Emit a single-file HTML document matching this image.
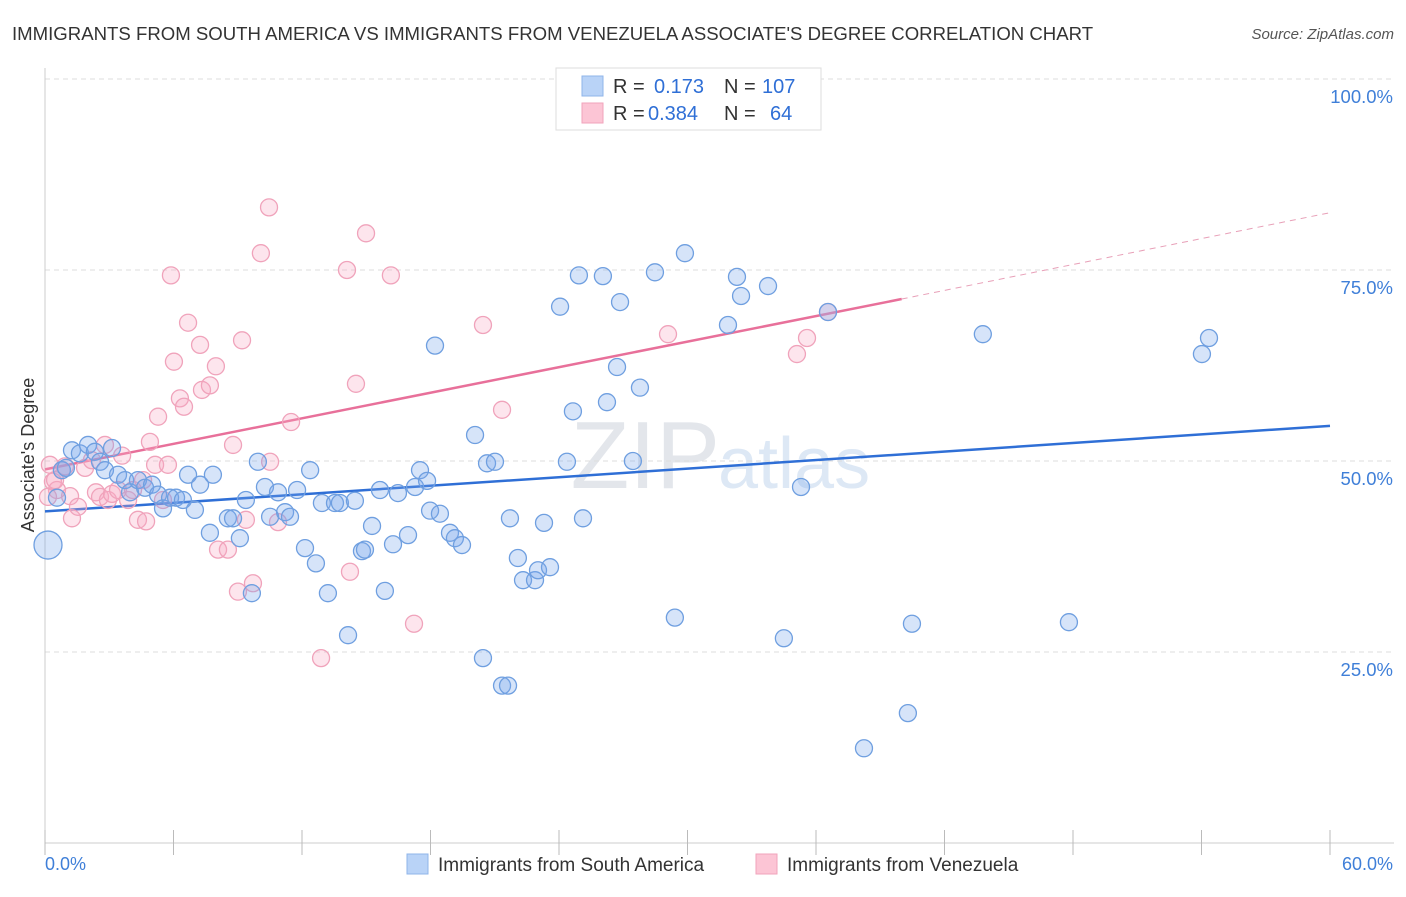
<!DOCTYPE html>
<html><head><meta charset="utf-8">
<style>
body{margin:0;background:#fff;font-family:"Liberation Sans",sans-serif;}
svg text{font-family:"Liberation Sans",sans-serif;}
</style></head><body>
<svg id="c" width="1406" height="892" xmlns="http://www.w3.org/2000/svg">
<text x="12" y="40" font-size="18.6" fill="#333">IMMIGRANTS FROM SOUTH AMERICA VS IMMIGRANTS FROM VENEZUELA ASSOCIATE'S DEGREE CORRELATION CHART</text>
<text x="1394" y="39" font-size="15" fill="#555" font-style="italic" text-anchor="end">Source: ZipAtlas.com</text>
<text x="720" y="488" font-size="96" fill="#e3e6eb" text-anchor="end" font-family="Liberation Serif">ZIP</text>
<text x="718" y="488" font-size="72" fill="#dde8f5">atlas</text>
<text transform="translate(34,455) rotate(-90)" font-size="18" fill="#333" text-anchor="middle">Associate's Degree</text>
<g id="grid"></g><g id="axes"></g><g id="lines"></g><g id="pts"></g>
<g>
<rect x="556" y="68" width="265" height="62" fill="#fff" stroke="#ddd"/>
<rect x="582" y="76" width="21" height="20" fill="#b9d3f7" stroke="#8fb4ea"/>
<rect x="582" y="103" width="21" height="20" fill="#fcc5d5" stroke="#f1a3bb"/>
<text x="613" y="93" font-size="20" fill="#333">R = </text><text x="654" y="93" font-size="20" fill="#2f6fd6">0.173</text>
<text x="724" y="93" font-size="20" fill="#333">N = </text><text x="762" y="93" font-size="20" fill="#2f6fd6">107</text>
<text x="613" y="120" font-size="20" fill="#333">R = </text><text x="648" y="120" font-size="20" fill="#2f6fd6">0.384</text>
<text x="724" y="120" font-size="20" fill="#333">N = </text><text x="770" y="120" font-size="20" fill="#2f6fd6">64</text>
</g>
<g>
<rect x="407" y="854" width="21" height="20" fill="#b9d3f7" stroke="#8fb4ea"/>
<text x="438" y="871" font-size="19" fill="#333">Immigrants from South America</text>
<rect x="756" y="854" width="21" height="20" fill="#fcc5d5" stroke="#f1a3bb"/>
<text x="787" y="871" font-size="19" fill="#333">Immigrants from Venezuela</text>
</g>
</svg>
<script>
const blueX=[0.14,0.56,0.79,0.98,1.26,1.63,2.01,2.33,2.57,2.80,3.13,3.41,3.74,3.97,4.34,4.67,5.00,5.28,5.51,5.84,6.12,6.44,6.68,7.00,7.24,7.70,7.84,8.54,8.78,9.10,9.38,9.66,9.94,10.27,10.51,10.88,11.21,11.44,11.77,12.14,12.38,12.65,12.93,13.21,13.54,13.77,14.15,14.47,14.80,14.94,15.27,15.64,15.87,16.25,16.48,16.95,17.28,17.51,17.84,17.98,18.21,18.44,18.91,19.14,19.47,20.08,20.45,20.64,21.01,21.34,21.62,21.71,22.08,22.32,22.88,23.02,23.30,23.58,24.05,24.37,24.65,24.93,25.12,26.05,26.24,26.71,26.85,27.45,27.78,28.48,29.41,29.88,31.89,32.31,32.50,33.76,34.50,35.30,36.56,38.24,40.29,40.48,43.79,47.81,54.02,54.35];
const blueY=[39.0,45.2,48.8,49.1,51.4,51.0,52.1,51.2,49.9,48.8,51.7,48.2,47.5,45.9,47.5,46.5,46.9,45.6,43.8,45.2,45.2,44.9,48.2,43.6,46.9,40.6,48.2,42.5,42.5,39.9,44.9,32.7,49.9,46.6,42.7,45.9,43.3,42.7,46.2,38.6,48.8,36.6,44.5,32.7,44.5,44.5,27.2,44.8,38.2,38.4,41.5,46.2,33.0,39.1,45.8,40.3,46.6,48.8,47.4,43.5,65.1,43.1,40.6,39.9,39.0,53.4,24.2,49.7,49.9,20.6,20.6,42.5,37.3,34.4,34.4,35.7,41.9,36.1,70.2,49.9,56.5,74.3,42.5,74.2,57.7,62.3,70.8,50.0,59.6,74.7,29.5,77.2,67.8,74.1,71.6,72.9,26.8,46.6,69.5,12.4,17.0,28.7,66.6,28.9,64.0,66.1];
const pinkX=[0.23,0.37,0.56,0.79,0.93,1.17,1.26,1.54,1.87,2.19,2.38,2.57,2.80,2.94,3.13,3.41,3.60,3.88,4.11,4.34,4.58,4.72,4.90,5.14,5.28,5.51,5.74,5.88,6.02,6.30,6.49,6.68,7.24,7.33,7.70,7.98,8.08,8.54,8.78,9.01,9.20,9.38,9.71,10.08,10.46,10.51,10.88,11.49,12.89,14.10,14.24,14.52,14.99,16.15,17.23,20.45,21.34,29.09,35.11,35.58,36.56,0.14,0.47];
const pinkY=[49.5,47.3,46.2,48.8,49.3,45.4,42.5,44.0,49.1,50.1,45.9,45.3,52.1,44.9,45.7,46.2,50.7,44.9,46.2,42.3,47.5,42.1,52.5,49.5,55.8,44.9,49.5,74.3,63.0,58.2,57.1,68.1,65.2,59.3,59.9,62.4,38.4,38.4,52.1,32.9,65.8,42.3,34.0,77.2,83.2,49.9,42.0,55.1,24.2,75.0,35.5,60.1,79.8,74.3,28.7,67.8,56.7,66.6,64.0,66.1,69.5,45.3,47.5];
const yTicks=[25,50,75,100];
const yTickLabels=["25.0%","50.0%","75.0%","100.0%"];
const blueTrend=[[0,43.4],[60,54.6]];
const pinkTrend=[[0,48.9],[40,71.2],[60,82.5]];
const NS="http://www.w3.org/2000/svg";
const X=v=>45+v/60*1285, Y=v=>843-v/100*764;
function mk(t,a,p){const e=document.createElementNS(NS,t);for(const k in a)e.setAttribute(k,a[k]);p.appendChild(e);return e;}
const grid=document.getElementById('grid'),axes=document.getElementById('axes'),lines=document.getElementById('lines'),pts=document.getElementById('pts');
yTicks.forEach((t,i)=>{
 const g=mk('line',{x1:45,x2:1394,y1:Y(t),y2:Y(t),stroke:'#ddd','stroke-dasharray':'5,4'},grid);
 
 
 const l=mk('text',{x:1393,y:Y(t)+24,'font-size':18.5,fill:'#3f7fd8','text-anchor':'end'},axes);
 l.textContent=yTickLabels[i];
 
 
});
const ax=mk('line',{x1:45,x2:45,y1:68,y2:843,stroke:'#ccc'},axes);


const bx=mk('line',{x1:45,x2:1394,y1:843,y2:843,stroke:'#ccc'},axes);


for(let i=0;i<=10;i++){const t=mk('line',{x1:X(i*6),x2:X(i*6),y1:830,y2:855,stroke:'#bbb'},axes);
 
 }
const x0=mk('text',{x:45,y:870,'font-size':18,fill:'#3f7fd8'},axes);x0.textContent='0.0%';


const x1=mk('text',{x:1393,y:870,'font-size':18,fill:'#3f7fd8','text-anchor':'end'},axes);x1.textContent='60.0%';


function dots(xs,ys,stroke,fill,name){xs.forEach((v,i)=>{
 const r=(name==='blue-point'&&i===0)?14:8.5;
 const c=mk('circle',{cx:X(v),cy:Y(ys[i]),r:r,fill:fill,stroke:stroke,'stroke-width':1.3},pts);
 
 
});}
dots(pinkX,pinkY,'#f0a3bb','rgba(247,170,195,0.3)','pink-point');
dots(blueX,blueY,'#6f9fe0','rgba(120,165,235,0.3)','blue-point');
const bl=mk('line',{x1:X(blueTrend[0][0]),y1:Y(blueTrend[0][1]),x2:X(blueTrend[1][0]),y2:Y(blueTrend[1][1]),stroke:'#2f6fd6','stroke-width':2.5},lines);


const pl=mk('line',{x1:X(pinkTrend[0][0]),y1:Y(pinkTrend[0][1]),x2:X(pinkTrend[1][0]),y2:Y(pinkTrend[1][1]),stroke:'#e8709a','stroke-width':2.5},lines);


const pd=mk('line',{x1:X(pinkTrend[1][0]),y1:Y(pinkTrend[1][1]),x2:X(pinkTrend[2][0]),y2:Y(pinkTrend[2][1]),stroke:'#e8a0b8','stroke-width':1,'stroke-dasharray':'6,5'},lines);


</script>
</body></html>
